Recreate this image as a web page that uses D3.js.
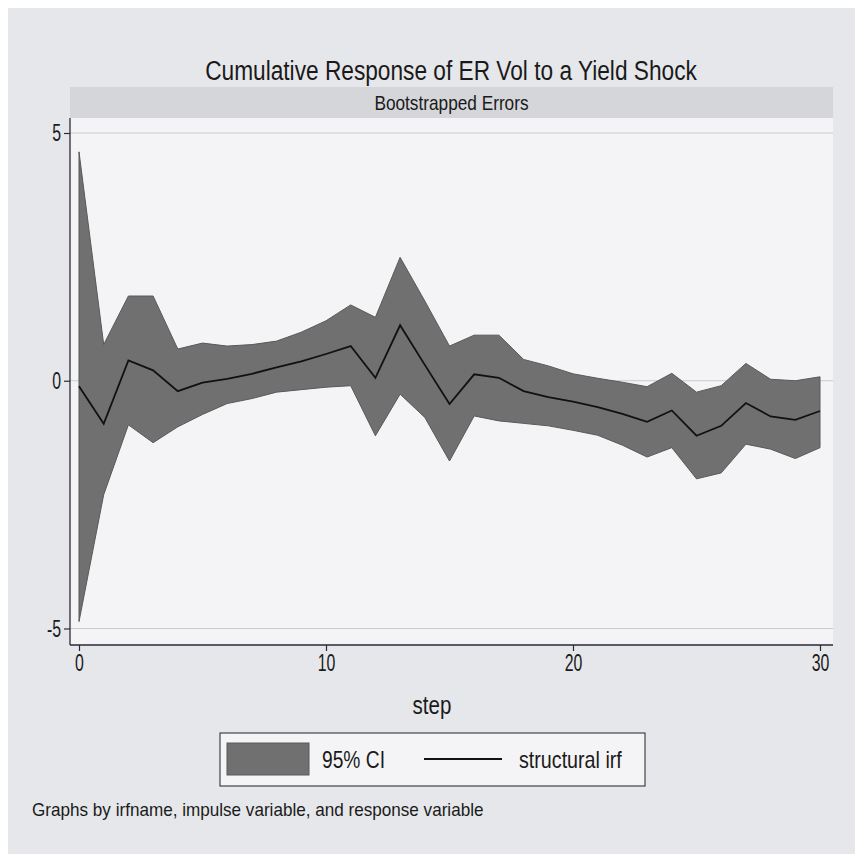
<!DOCTYPE html>
<html>
<head>
<meta charset="utf-8">
<script src="https://cdn.jsdelivr.net/npm/d3@7"></script>
<style>
  body { margin: 0; background: #ffffff; }
  svg text { font-family: "Liberation Sans Narrow", "Arial Narrow", "Liberation Sans", Arial, sans-serif; fill: #1a1a1a; }
</style>
</head>
<body>
<svg width="855" height="854"></svg>
<script>
// response of ER Vol, steps 0..30
var steps = d3.range(0, 31);
var irf = [-0.11, -0.87, 0.41, 0.21, -0.21, -0.04, 0.04, 0.14, 0.27, 0.39, 0.54,
           0.70, 0.06, 1.12, 0.32, -0.47, 0.13, 0.06, -0.21, -0.33, -0.42,
           -0.53, -0.67, -0.83, -0.60, -1.11, -0.91, -0.45, -0.72, -0.79, -0.61];
var ciUpper = [4.62, 0.73, 1.71, 1.71, 0.64, 0.76, 0.70, 0.73, 0.80, 0.98, 1.21,
               1.53, 1.28, 2.49, 1.61, 0.70, 0.92, 0.92, 0.43, 0.30, 0.14,
               0.05, -0.03, -0.12, 0.15, -0.23, -0.10, 0.35, 0.03, 0.00, 0.08];
var ciLower = [-4.86, -2.30, -0.89, -1.25, -0.93, -0.68, -0.46, -0.36, -0.23, -0.18, -0.13,
               -0.10, -1.11, -0.27, -0.74, -1.62, -0.71, -0.81, -0.86, -0.91, -1.00,
               -1.10, -1.30, -1.54, -1.35, -1.98, -1.86, -1.28, -1.38, -1.57, -1.35];
var xTicks = [0, 10, 20, 30];
var yTicks = [-5, 0, 5];

var rows = steps.map((s, i) => ({step: s, irf: irf[i], lo: ciLower[i], hi: ciUpper[i]}));

var svg = d3.select("svg");

// squeeze text so it looks like the narrow Stata font
function narrow(sel, k) {
  sel.each(function() {
    var w = this.getComputedTextLength();
    d3.select(this)
      .attr("textLength", w * k)
      .attr("lengthAdjust", "spacingAndGlyphs");
  });
}

// outer graph region
svg.append("rect")
    .attr("x", 8).attr("y", 8)
    .attr("width", 847).attr("height", 846)
    .attr("fill", "#e6e7ea");

var plot = {left: 70, right: 833, top: 118, bottom: 645};

var x = d3.scaleLinear().domain([0, 30]).range([79, 820]);
var y = d3.scaleLinear().domain([-5, 5]).range([628.5, 133]);

svg.append("text")
    .attr("x", 451).attr("y", 80)
    .attr("text-anchor", "middle")
    .style("font-size", "27px")
    .text("Cumulative Response of ER Vol to a Yield Shock")
    .call(narrow, 0.84);

// subtitle strip
svg.append("rect")
    .attr("x", plot.left).attr("y", 87)
    .attr("width", plot.right - plot.left).attr("height", plot.top - 87)
    .attr("fill", "#d5d6d9");

svg.append("text")
    .attr("x", (plot.left + plot.right) / 2).attr("y", 110)
    .attr("text-anchor", "middle")
    .style("font-size", "21px")
    .text("Bootstrapped Errors")
    .call(narrow, 0.82);

svg.append("rect")
    .attr("x", plot.left).attr("y", plot.top)
    .attr("width", plot.right - plot.left).attr("height", plot.bottom - plot.top)
    .attr("fill", "#f4f4f6");

// grid
svg.append("g")
  .selectAll("line")
  .data(yTicks)
  .enter()
    .append("line")
    .attr("x1", plot.left).attr("x2", plot.right)
    .attr("y1", d => y(d)).attr("y2", d => y(d))
    .attr("stroke", "#c9cacd")
    .attr("stroke-width", 1.2);

var area = d3.area()
    .x(d => x(d.step))
    .y0(d => y(d.lo))
    .y1(d => y(d.hi));

svg.append("path")
    .datum(rows)
    .attr("d", area)
    .attr("fill", "#707070")
    .attr("stroke", "#595959")
    .attr("stroke-width", 1);

var line = d3.line()
    .x(d => x(d.step))
    .y(d => y(d.irf));

svg.append("path")
    .datum(rows)
    .attr("d", line)
    .attr("fill", "none")
    .attr("stroke", "#111")
    .attr("stroke-width", 1.8);

// axes
var yAxis = svg.append("g")
    .attr("transform", "translate(" + plot.left + ",0)")
    .call(d3.axisLeft(y).tickValues(yTicks).tickSize(6).tickPadding(3).tickFormat(d => String(d)));

yAxis.select(".domain").attr("d", "M0," + plot.top + "V" + plot.bottom);

var xAxis = svg.append("g")
    .attr("transform", "translate(0," + plot.bottom + ")")
    .call(d3.axisBottom(x).tickValues(xTicks).tickSize(6).tickPadding(3));

xAxis.select(".domain").attr("d", "M" + plot.left + ",0H" + plot.right);

svg.selectAll(".domain").attr("stroke", "#2a2a3a").attr("stroke-width", 1.3);
svg.selectAll(".tick line").attr("stroke", "#2a2a3a").attr("stroke-width", 1.2);
svg.selectAll(".tick text")
    .attr("font-size", 24)
    .style("font-size", "24px")
    .attr("fill", "#1a1a1a")
    .call(narrow, 0.66);

svg.append("text")
    .attr("x", 432).attr("y", 714)
    .attr("text-anchor", "middle")
    .style("font-size", "25px")
    .text("step")
    .call(narrow, 0.82);

// legend
var legend = svg.append("g");

legend.append("rect")
    .attr("x", 220).attr("y", 733)
    .attr("width", 425).attr("height", 53)
    .attr("fill", "#f4f4f6")
    .attr("stroke", "#222")
    .attr("stroke-width", 1);

legend.append("rect")
    .attr("x", 227).attr("y", 743)
    .attr("width", 82).attr("height", 32)
    .attr("fill", "#707070")
    .attr("stroke", "#595959")
    .attr("stroke-width", 1);

legend.append("text")
    .attr("x", 322).attr("y", 768)
    .style("font-size", "24px")
    .text("95% CI")
    .call(narrow, 0.8);

legend.append("line")
    .attr("x1", 424).attr("x2", 502)
    .attr("y1", 759).attr("y2", 759)
    .attr("stroke", "#111")
    .attr("stroke-width", 1.8);

legend.append("text")
    .attr("x", 519).attr("y", 768)
    .style("font-size", "24px")
    .text("structural irf")
    .call(narrow, 0.82);

svg.append("text")
    .attr("x", 32).attr("y", 816)
    .style("font-size", "19px")
    .text("Graphs by irfname, impulse variable, and response variable")
    .call(narrow, 0.9);
</script>
</body>
</html>
